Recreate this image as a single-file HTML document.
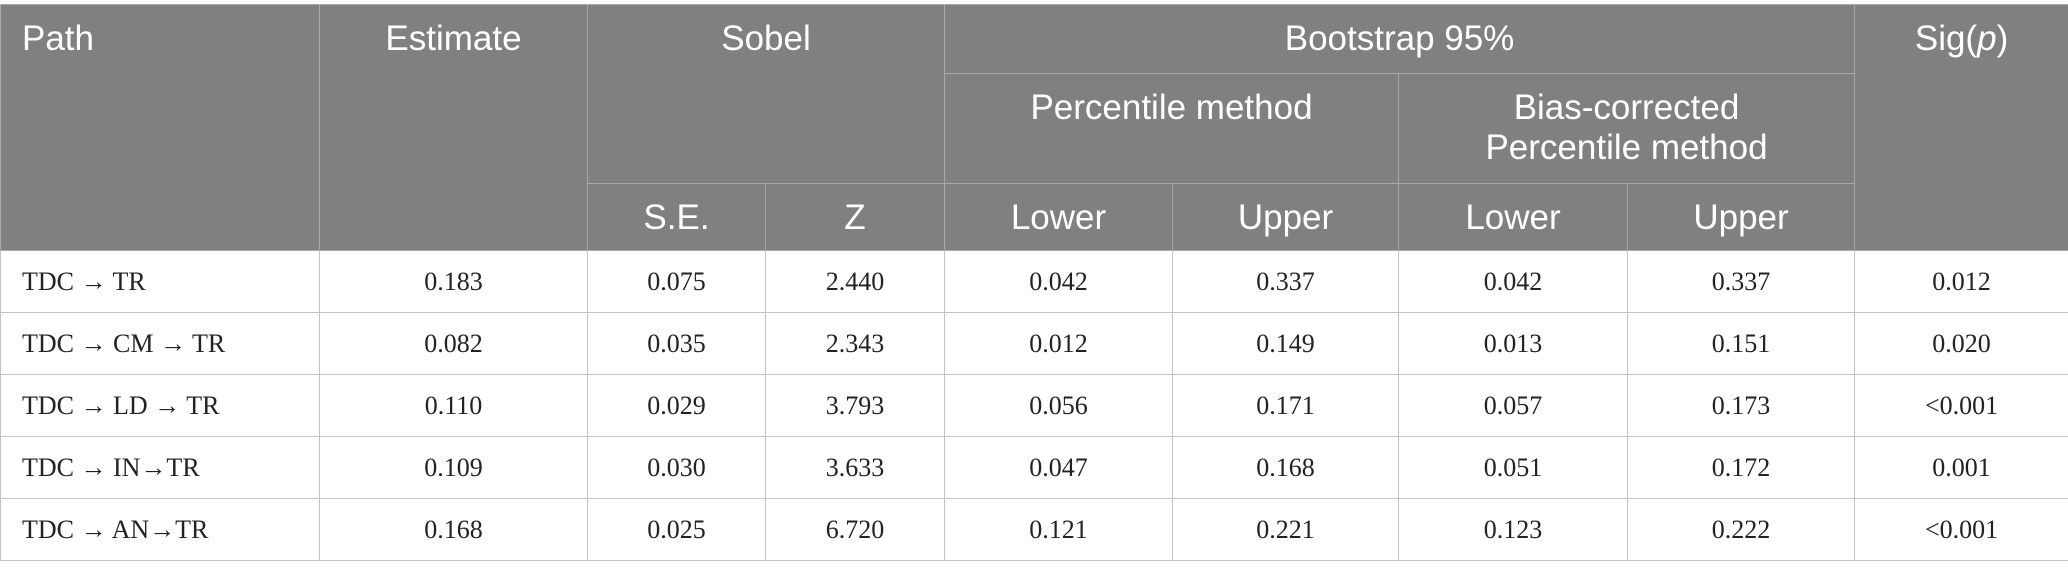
<!DOCTYPE html>
<html><head><meta charset="utf-8"><style>
html,body{margin:0;padding:0;background:#fff;width:2068px;height:580px;overflow:hidden}
table{position:absolute;left:0;top:4px;border-collapse:collapse;table-layout:fixed;width:2068px}
th{background:#808080;color:#fff;font-family:"Liberation Sans",sans-serif;font-weight:normal;font-size:35px;vertical-align:top;text-align:center;border:1px solid #a8a8a8;padding:14px 4px 0 4px;line-height:40px}
td{font-family:"Liberation Serif",serif;font-size:26px;color:#222;text-align:center;border:1px solid #c4c4c4;height:61px;padding:0;vertical-align:middle}
td.l{text-align:left;padding-left:21px}
th.l{text-align:left;padding-left:21px}
tr.h1 th{height:54px}
tr.h2 th{height:95px}
tr.h3 th{height:64px;vertical-align:middle;padding-top:2px}
</style></head><body>
<table>
<colgroup><col style="width:319px"><col style="width:268px"><col style="width:178px"><col style="width:179px"><col style="width:228px"><col style="width:226px"><col style="width:229px"><col style="width:227px"><col style="width:214px"></colgroup>
<tr class="h1"><th class="l" rowspan="3">Path</th><th rowspan="3">Estimate</th><th colspan="2" rowspan="2">Sobel</th><th colspan="4">Bootstrap 95%</th><th rowspan="3">Sig(<i>p</i>)</th></tr>
<tr class="h2"><th colspan="2">Percentile method</th><th colspan="2">Bias-corrected<br>Percentile method</th></tr>
<tr class="h3"><th>S.E.</th><th>Z</th><th>Lower</th><th>Upper</th><th>Lower</th><th>Upper</th></tr>
<tr><td class="l">TDC → TR</td><td>0.183</td><td>0.075</td><td>2.440</td><td>0.042</td><td>0.337</td><td>0.042</td><td>0.337</td><td>0.012</td></tr>
<tr><td class="l">TDC → CM → TR</td><td>0.082</td><td>0.035</td><td>2.343</td><td>0.012</td><td>0.149</td><td>0.013</td><td>0.151</td><td>0.020</td></tr>
<tr><td class="l">TDC → LD → TR</td><td>0.110</td><td>0.029</td><td>3.793</td><td>0.056</td><td>0.171</td><td>0.057</td><td>0.173</td><td>&lt;0.001</td></tr>
<tr><td class="l">TDC → IN→TR</td><td>0.109</td><td>0.030</td><td>3.633</td><td>0.047</td><td>0.168</td><td>0.051</td><td>0.172</td><td>0.001</td></tr>
<tr><td class="l">TDC → AN→TR</td><td>0.168</td><td>0.025</td><td>6.720</td><td>0.121</td><td>0.221</td><td>0.123</td><td>0.222</td><td>&lt;0.001</td></tr>
</table>
</body></html>
